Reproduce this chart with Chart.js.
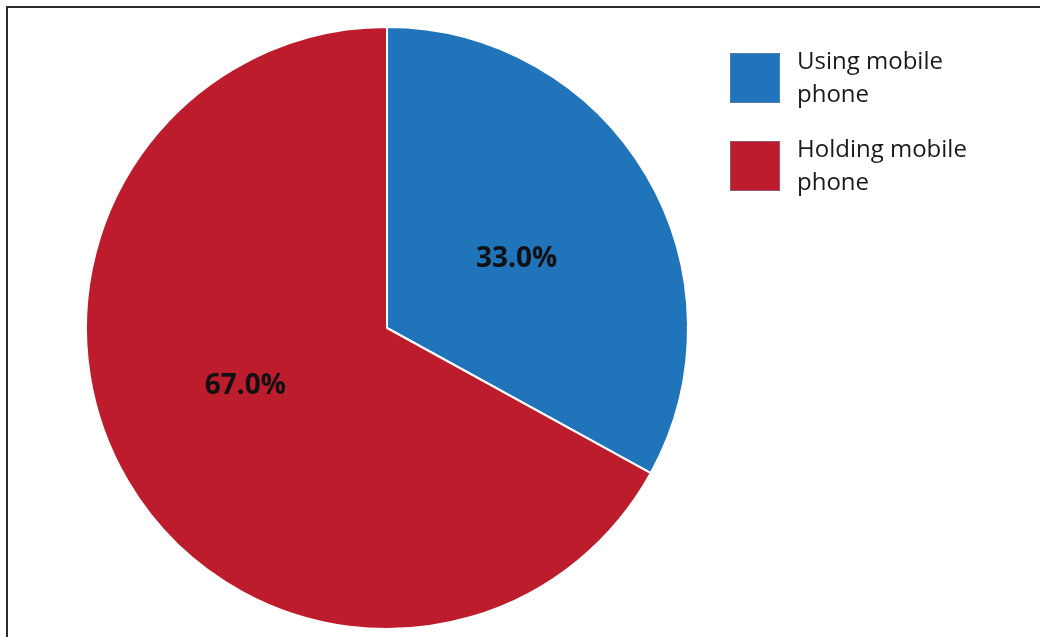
<!DOCTYPE html>
<html>
<head>
<meta charset="utf-8">
<script src="https://cdn.jsdelivr.net/npm/chart.js@4.4.0/dist/chart.umd.min.js"></script>
<style>
    html, body { margin: 0; padding: 0; background: #fff; }
    #wrap { position: relative; width: 1040px; height: 637px; overflow: hidden; }
    #frame { position: absolute; left: 6px; top: 6px; width: 1100px; height: 700px;
             border-left: 2px solid #2a2a2a; border-top: 2px solid #2a2a2a; }
    canvas { position: absolute; left: 0; top: 0; }
</style>
</head>
<body>
<div id="wrap">
    <div id="frame"></div>
    <canvas id="pieChart" width="1040" height="637"></canvas>
</div>
<script>
// chart values
const categories = [['Using mobile', 'phone'], ['Holding mobile', 'phone']];
const shares = [33.0, 67.0];
const sliceColors = ['#1f74ba', '#bd1c2d'];

document.addEventListener('DOMContentLoaded', function () {
    const fontFamily = '"Open Sans", "Noto Sans", sans-serif';

    // percentage labels inside the slices (small nudges to match the original placement)
    const labelNudge = [[0, 8], [-12, -19]];
    const sliceLabels = {
        id: 'sliceLabels',
        afterDatasetsDraw(chart) {
            const ctx = chart.ctx;
            const meta = chart.getDatasetMeta(0);
            ctx.save();
            ctx.font = 'bold 28px ' + fontFamily;
            ctx.fillStyle = '#111';
            ctx.textAlign = 'center';
            ctx.textBaseline = 'middle';
            meta.data.forEach((arc, i) => {
                const pos = arc.tooltipPosition();
                ctx.fillText(shares[i].toFixed(1) + '%', pos.x + labelNudge[i][0], pos.y + labelNudge[i][1]);
            });
            ctx.restore();
        }
    };

    // legend on the right with wrapped labels
    const sideLegend = {
        id: 'sideLegend',
        afterDraw(chart) {
            const ctx = chart.ctx;
            ctx.save();
            ctx.font = '24px ' + fontFamily;
            ctx.textBaseline = 'middle';
            ctx.textAlign = 'left';
            categories.forEach((lines, i) => {
                const top = 53 + i * 88;
                ctx.fillStyle = sliceColors[i];
                ctx.fillRect(730, top, 50, 50);
                ctx.strokeStyle = 'rgba(120,130,160,0.6)';
                ctx.lineWidth = 1;
                ctx.strokeRect(730.5, top + 0.5, 49, 49);
                ctx.fillStyle = '#1a1a1a';
                lines.forEach((line, j) => {
                    ctx.fillText(line, 797, top + 9 + j * 33);
                });
            });
            ctx.restore();
        }
    };

    const ctx = document.getElementById('pieChart').getContext('2d');
    new Chart(ctx, {
        type: 'pie',
        data: {
            labels: categories.map(c => c.join(' ')),
            datasets: [{
                data: shares,
                backgroundColor: sliceColors,
                borderColor: '#ffffff',
                borderWidth: 2
            }]
        },
        options: {
            responsive: false,
            animation: false,
            layout: { padding: { left: 85, top: 26, right: 351, bottom: 7 } },
            plugins: {
                legend: { display: false },
                tooltip: { enabled: false }
            }
        },
        plugins: [sliceLabels, sideLegend]
    });
});
</script>
</body>
</html>
